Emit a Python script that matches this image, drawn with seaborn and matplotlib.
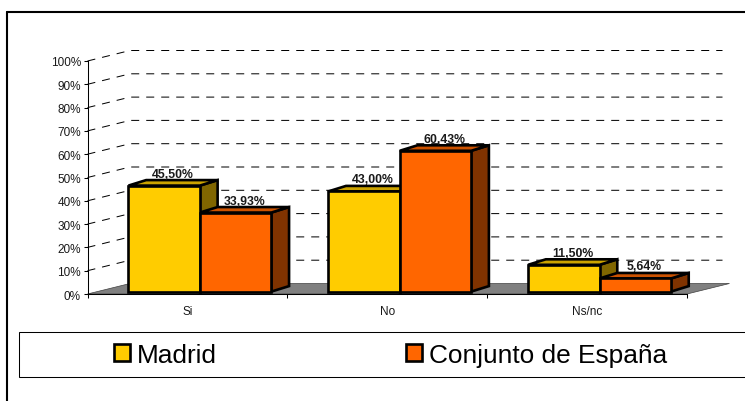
import pandas as pd
import matplotlib
matplotlib.use("Agg")
import matplotlib.pyplot as plt
from matplotlib.lines import Line2D
from matplotlib.patches import Polygon, Rectangle
from matplotlib.transforms import Affine2D, IdentityTransform
import seaborn as sns

# values
categories = ["Si", "No", "Ns/nc"]
madrid = [45.50, 43.00, 11.50]
espana = [33.93, 60.43, 5.64]
series_names = ["Madrid", "Conjunto de España"]
y_ticks = [0, 10, 20, 30, 40, 50, 60, 70, 80, 90, 100]
y_tick_labels = [str(v) + "%" for v in y_ticks]

front_colors = ["#FFCC00", "#FF6600"]
top_colors = ["#CCA300", "#CC5200"]
side_colors = ["#806600", "#803300"]

W, H = 745, 402
sns.set_theme(style="white")
plt.rcParams["font.family"] = ["Liberation Sans", "DejaVu Sans"]


def fig_xy(x, y):
    return x / W, 1 - y / H


df = pd.DataFrame({
    "categoria": categories * 2,
    "valor": madrid + espana,
    "serie": [series_names[0]] * 3 + [series_names[1]] * 3,
})

fig = plt.figure(figsize=(W / 100, H / 100), dpi=100, facecolor="white")
ax = fig.add_axes([87.5 / W, 1 - 295 / H, 599.5 / W, 233 / H])
ax.patch.set_alpha(0)

sns.barplot(data=df, x="categoria", y="valor", hue="serie",
            palette=front_colors, width=0.715, gap=0, saturation=1,
            edgecolor="black", linewidth=1.9, zorder=5, ax=ax)
handles, labels = ax.get_legend_handles_labels()
ax.get_legend().remove()

ax.set_xlim(-0.5, 2.5)
ax.set_ylim(0, 100)
ax.set_xlabel("")
ax.set_ylabel("")
ax.set_yticks(y_ticks)
ax.set_yticklabels(y_tick_labels, fontsize=8.5, color="#1a1a1a")
ax.set_xticks([-0.5, 0.5, 1.5, 2.5])
ax.set_xticklabels([])
ax.set_xticks([0, 1, 2], labels=categories, minor=True)
ax.tick_params(axis="both", which="major", left=True, bottom=True, length=3.2,
               width=0.75, color="black", pad=1.5)
ax.tick_params(axis="x", which="minor", length=0, pad=8, labelsize=8.5,
               labelcolor="#1a1a1a")
sns.despine(ax=ax, top=True, right=True)
for s in ["left", "bottom"]:
    ax.spines[s].set_linewidth(0.75)
    ax.spines[s].set_color("black")
    ax.spines[s].set_zorder(6)

# back wall and floor, pixel offsets of the fake 3d
wall_dx, wall_dy = 42.5, 10.5
to_px = ax.transData.transform
x0, x1 = ax.get_xlim()

fl0 = to_px((x0, 0))
fl1 = to_px((x1, 0))
ax.add_patch(Polygon([fl0, fl0 + [wall_dx, wall_dy], fl1 + [wall_dx, wall_dy], fl1],
                     closed=True, transform=IdentityTransform(), facecolor="#808080",
                     edgecolor="#404040", lw=0.5, clip_on=False, zorder=1))
for v in y_ticks[1:]:
    p0 = to_px((x0, v))
    p1 = to_px((x1, v))
    ax.add_line(Line2D([p0[0], p0[0] + wall_dx, p1[0] + wall_dx - 7],
                       [p0[1], p0[1] + wall_dy, p0[1] + wall_dy],
                       transform=IdentityTransform(), color="black", lw=0.72,
                       linestyle=(0, (8, 7)), clip_on=False, zorder=1))

# front faces sit a little in front of the wall, depth faces come from the bars
shift = Affine2D().translate(12.5, 2.4)
depth_dx, depth_dy = 17.7, 5.5
for i, bars in enumerate(ax.containers):
    for bar in bars:
        bar.set_transform(ax.transData + shift)
        bar.set_clip_on(False)
        xl, xr = bar.get_x(), bar.get_x() + bar.get_width()
        top = bar.get_height()
        a = shift.transform(to_px((xl, top)))
        b = shift.transform(to_px((xr, top)))
        c = shift.transform(to_px((xr, 0)))
        d = [depth_dx, depth_dy]
        ax.add_patch(Polygon([b, b + d, c + d, c], closed=True,
                             transform=IdentityTransform(), facecolor=side_colors[i],
                             edgecolor="black", lw=1.9, joinstyle="miter",
                             clip_on=False, zorder=2 + i))
        ax.add_patch(Polygon([a, a + d, b + d, b], closed=True,
                             transform=IdentityTransform(), facecolor=top_colors[i],
                             edgecolor="black", lw=1.9, joinstyle="miter",
                             clip_on=False, zorder=2 + i))
        label = f"{top:.2f}%".replace(".", ",")
        mid = (a + b) / 2
        ax.text(mid[0] + 9, a[1] + 6, label, transform=IdentityTransform(),
                ha="center", va="bottom", fontsize=8.8, fontweight="bold",
                color="#1a1a1a", zorder=8)

# outer frame, open at the right and at the bottom
for xs, ys in [((7, 7), (12.5, 402)), ((7, 745), (12.5, 12.5))]:
    pts = [fig_xy(x, y) for x, y in zip(xs, ys)]
    fig.add_artist(Line2D([pts[0][0], pts[1][0]], [pts[0][1], pts[1][1]],
                          color="black", lw=1.5))

# legend box
bx, by = fig_xy(18.5, 377.5)
fig.add_artist(Rectangle((bx, by), 740 / W, 45 / H, transform=fig.transFigure,
                         facecolor="white", edgecolor="black", lw=0.75, zorder=3))
for h in handles:
    h.set_edgecolor("black")
    h.set_linewidth(1.9)
lx, ly = fig_xy(114, 356)
leg = fig.legend(handles, labels, ncol=2, loc="center left", bbox_to_anchor=(lx, ly),
                 frameon=False, fontsize=18.9, handlelength=0.62, handleheight=0.62,
                 handletextpad=0.25, columnspacing=7.2, borderpad=0, borderaxespad=0,
                 labelcolor="black")
leg.set_zorder(4)

fig.savefig("out.png", dpi=100, facecolor="white")
